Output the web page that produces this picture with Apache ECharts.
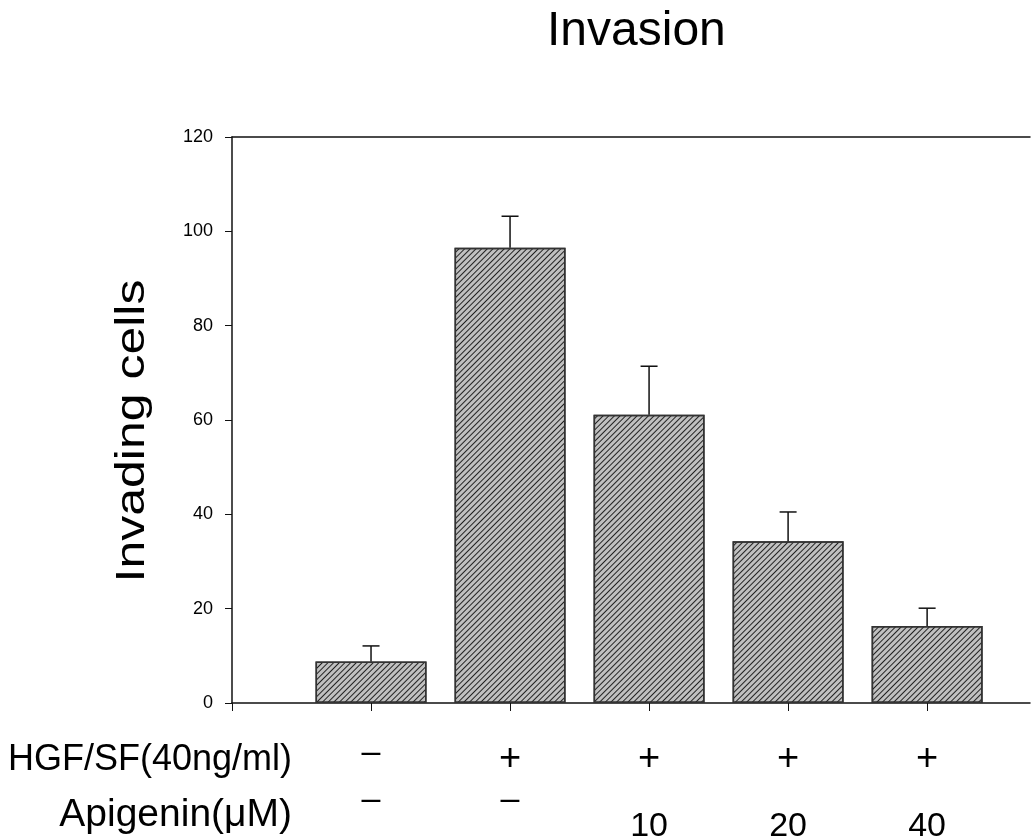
<!DOCTYPE html>
<html>
<head>
<meta charset="utf-8">
<style>
  html, body { margin: 0; padding: 0; background: #fff; }
  #main { width: 1031px; height: 836px; }
</style>
<script src="https://cdn.jsdelivr.net/npm/echarts@6/dist/echarts.min.js"></script>
</head>
<body>
<div id="main"></div>
<script>
  // bar positions on the x axis (one per treatment group)
  const positions = [1, 2, 3, 4, 5]
  const cellMeans = [8.8, 96.5, 61.1, 34.3, 16.3]
  const cellErrors = [3.3, 6.7, 10.3, 6.2, 3.8]
  const yTicks = [0, 20, 40, 60, 80, 100, 120]
  const xTicks = [0, 1, 2, 3, 4, 5]
  const hgfLabels = ['–', '+', '+', '+', '+']
  const apigeninLabels = ['–', '–', '10', '20', '40']

  const FONT = 'Liberation Sans, Arial, sans-serif'
  const NARROW = 'Liberation Sans Narrow, Liberation Sans, Arial, sans-serif'
  const X_MAX = 5.74

  const barData = positions.map((p, i) => [p, cellMeans[i]])
  const errData = positions.map((p, i) => [p, cellMeans[i], cellErrors[i]])

  // 行标签轴（不画轴线，只画文字）
  function labelAxis (labels, margin, dashLift) {
    return {
      type: 'value', position: 'bottom', min: 0, max: X_MAX,
      axisLine: { show: false }, axisTick: { show: false }, splitLine: { show: false },
      axisLabel: {
        customValues: positions,
        margin: margin,
        verticalAlign: 'middle',
        formatter: v => {
          const t = labels[positions.indexOf(v)]
          if (t === '–') return `{d|${t}}`
          if (t === '+') return `{p|${t}}`
          return `{n|${t}}`
        },
        rich: {
          d: { fontSize: 34, fontFamily: FONT, color: '#000', padding: [0, 0, dashLift, 0] },
          p: { fontSize: 38, fontFamily: FONT, color: '#000' },
          n: { fontSize: 34, fontFamily: FONT, color: '#000' }
        }
      }
    }
  }

  const chart = echarts.init(document.getElementById('main'))
  chart.setOption({
    animation: false,
    backgroundColor: '#fff',
    title: {
      text: 'Invasion', left: 547, top: 8, padding: 0,
      textStyle: { fontSize: 48, fontWeight: 'normal', color: '#000', fontFamily: FONT }
    },
    grid: { left: 232, top: 137, right: 1, bottom: 133, outerBoundsMode: 'none' },
    xAxis: [
      {
        type: 'value', position: 'bottom', min: 0, max: X_MAX,
        axisLine: { lineStyle: { color: '#111', width: 1.5 } },
        axisTick: { show: true, customValues: xTicks, length: 8, lineStyle: { color: '#111', width: 1 } },
        axisLabel: { show: false },
        splitLine: { show: false }
      },
      {
        type: 'value', position: 'top', min: 0, max: X_MAX,
        axisLine: { lineStyle: { color: '#111', width: 1.5 } },
        axisTick: { show: false }, axisLabel: { show: false }, splitLine: { show: false }
      },
      labelAxis(hgfLabels, 57, 14),
      labelAxis(apigeninLabels, 124, 54)
    ],
    yAxis: {
      type: 'value', min: yTicks[0], max: yTicks[yTicks.length - 1], interval: 20,
      axisLine: { show: true, lineStyle: { color: '#111', width: 1.5 } },
      axisTick: { show: true, length: 7, lineStyle: { color: '#111', width: 1 } },
      axisLabel: { margin: 19, fontSize: 18, color: '#000', fontFamily: NARROW },
      splitLine: { show: false }
    },
    graphic: [
      {
        type: 'text', x: 133, y: 431, rotation: Math.PI / 2, scaleY: 0.8,
        style: { text: 'Invading cells', fontSize: 50, fontFamily: FONT, fill: '#000', align: 'center', verticalAlign: 'middle' }
      },
      {
        type: 'text', x: 292, y: 760,
        style: { text: 'HGF/SF(40ng/ml)', fontSize: 36, fontFamily: FONT, fill: '#000', align: 'right', verticalAlign: 'middle' }
      },
      {
        type: 'text', x: 292, y: 815,
        style: { text: 'Apigenin(μM)', fontSize: 39, fontFamily: FONT, fill: '#000', align: 'right', verticalAlign: 'middle' }
      }
    ],
    series: [
      {
        name: 'Invading cells',
        type: 'bar',
        xAxisIndex: 0,
        barWidth: 111,
        data: barData,
        itemStyle: {
          color: '#c0c0c0',
          borderColor: '#333',
          borderWidth: 1.5,
          decal: {
            symbol: 'rect', symbolSize: 1,
            dashArrayX: [1, 0], dashArrayY: [1, 3],
            rotation: -Math.PI / 4,
            color: '#222'
          }
        }
      },
      {
        name: 'error',
        type: 'custom',
        xAxisIndex: 0,
        data: errData,
        z: 3,
        renderItem (params, api) {
          const x = api.value(0)
          const m = api.value(1)
          const e = api.value(2)
          const base = api.coord([x, m])
          const top = api.coord([x, m + e])
          const half = 8.5
          const style = { stroke: '#111', lineWidth: 1.5 }
          return {
            type: 'group',
            children: [
              { type: 'line', shape: { x1: base[0], y1: base[1], x2: top[0], y2: top[1] }, style },
              { type: 'line', shape: { x1: top[0] - half, y1: top[1], x2: top[0] + half, y2: top[1] }, style }
            ]
          }
        }
      }
    ]
  })
</script>
</body>
</html>
